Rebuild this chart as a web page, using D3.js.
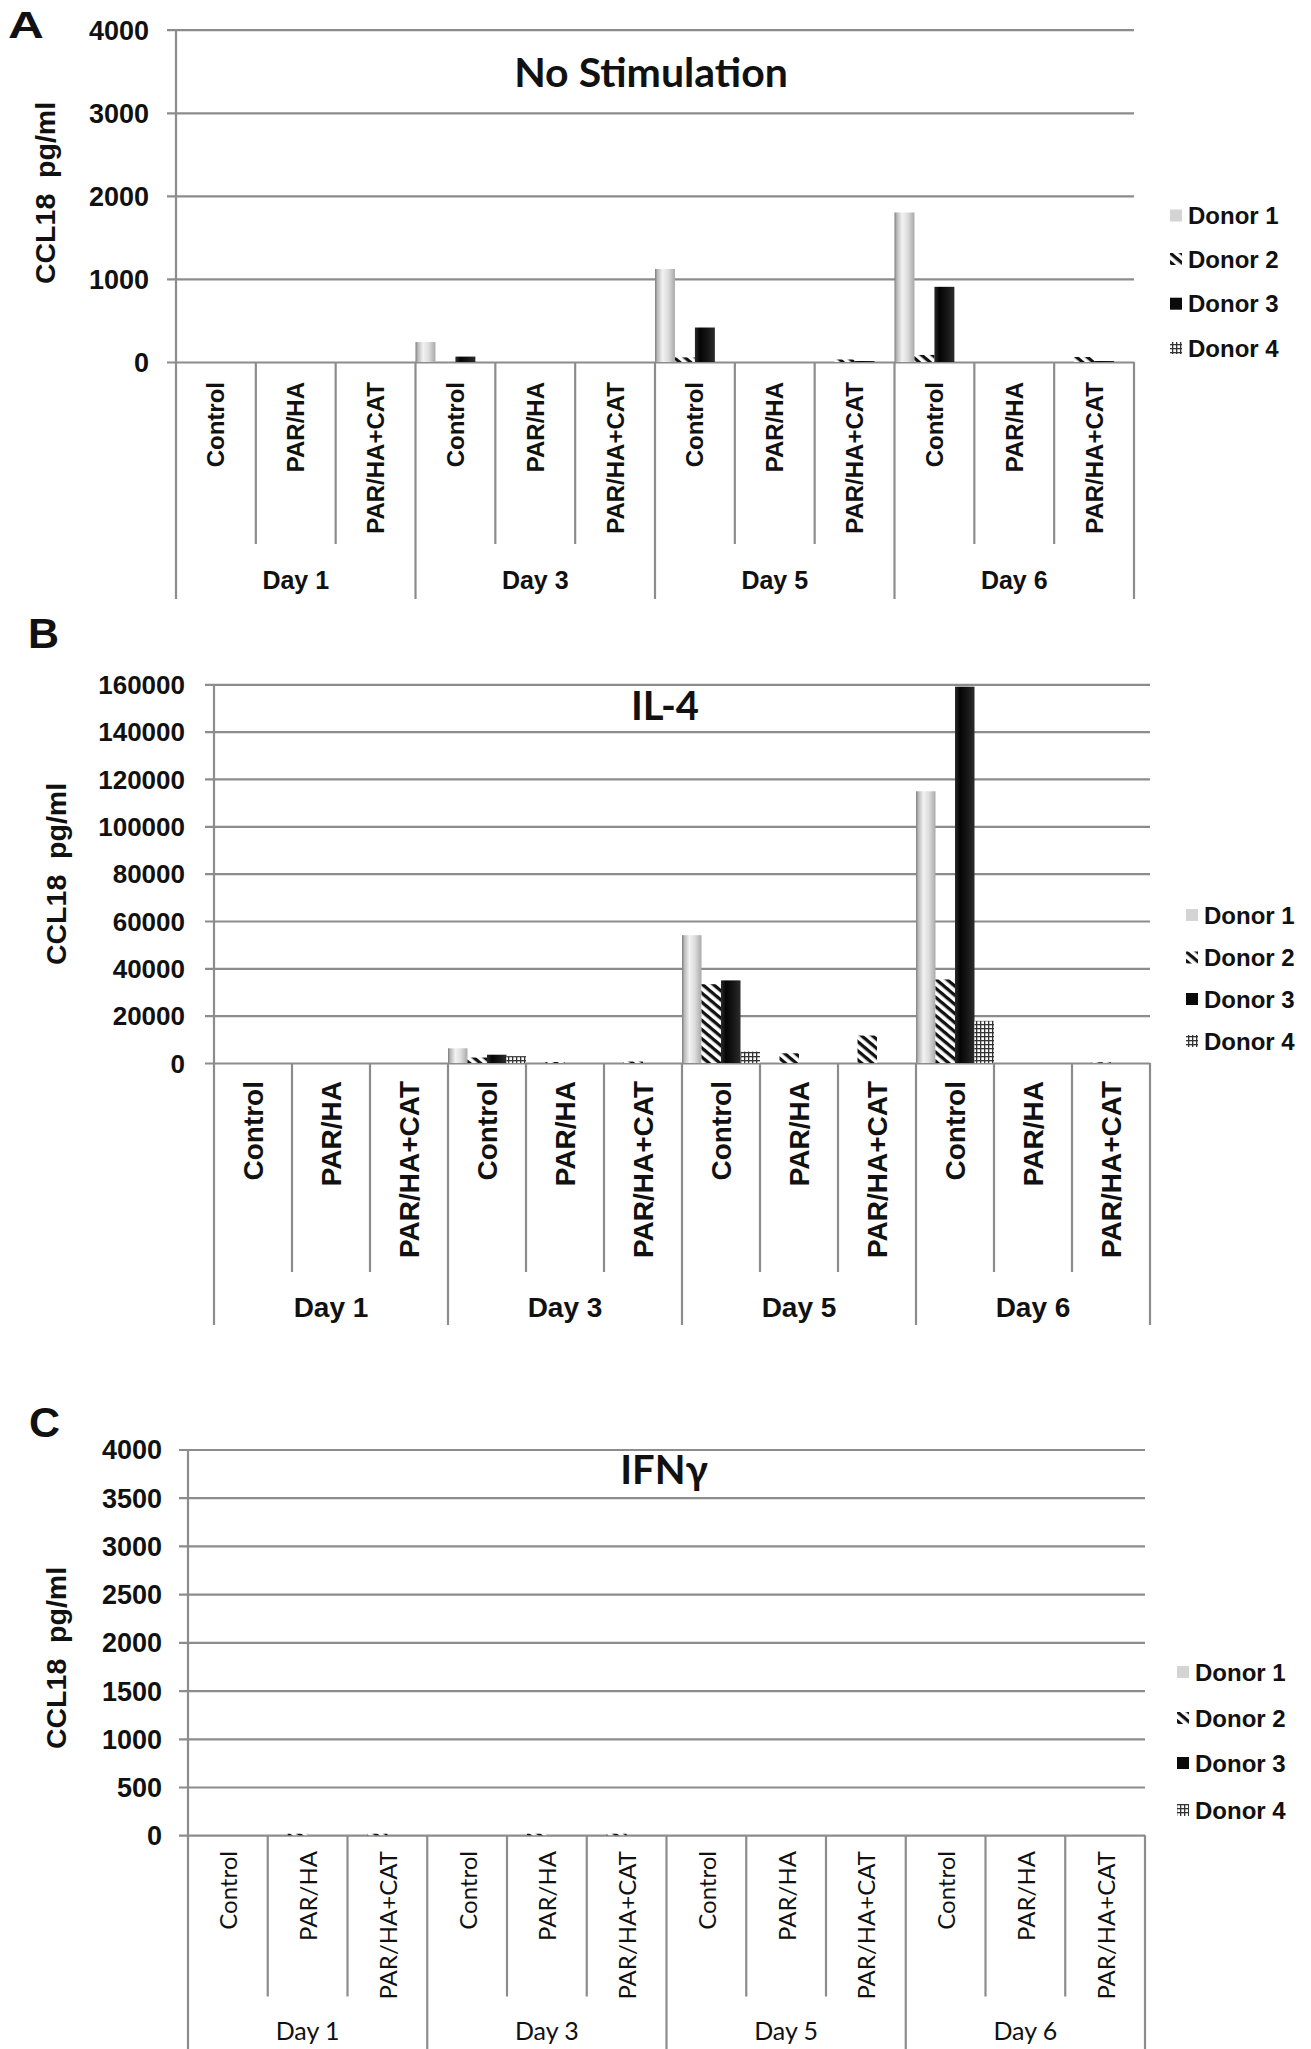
<!DOCTYPE html>
<html>
<head>
<meta charset="utf-8">
<script src="https://cdn.jsdelivr.net/npm/d3@7"></script>
<style>
  html, body { margin: 0; padding: 0; background: #fff; }
  svg { display: block; }
  text { fill: #111; }
</style>
</head>
<body>
<svg id="chart" width="1311" height="2049"></svg>
<script>
// ---------------- DATA ----------------
const days = ["Day 1", "Day 3", "Day 5", "Day 6"];
const treatments = ["Control", "PAR/HA", "PAR/HA+CAT"];
const donors = ["Donor 1", "Donor 2", "Donor 3", "Donor 4"];
const panelLetters = ["A", "B", "C"];
const panelTitles = ["No Stimulation", "IL-4", "IFNγ"];
const yAxisTitle = "CCL18  pg/ml";

const ticksA = [0, 1000, 2000, 3000, 4000];
const ticksB = [0, 20000, 40000, 60000, 80000, 100000, 120000, 140000, 160000];
const ticksC = [0, 500, 1000, 1500, 2000, 2500, 3000, 3500, 4000];

// values ordered Day1(Control, PAR/HA, PAR/HA+CAT), Day3(...), Day5(...), Day6(...)
const noStimDonor1 = [0, 0, 0, 240, 0, 0, 1120, 0, 0, 1800, 0, 0];
const noStimDonor2 = [0, 0, 0, 0, 0, 0, 55, 0, 30, 85, 0, 60];
const noStimDonor3 = [0, 0, 0, 65, 0, 0, 415, 0, 12, 905, 0, 12];
const noStimDonor4 = [0, 0, 0, 0, 0, 0, 0, 0, 0, 0, 0, 0];

const il4Donor1 = [0, 0, 0, 6200, 0, 0, 54000, 0, 0, 114800, 0, 0];
const il4Donor2 = [0, 0, 0, 2300, 400, 600, 33300, 4100, 11600, 35300, 0, 300];
const il4Donor3 = [0, 0, 0, 3500, 0, 0, 34900, 0, 0, 159000, 0, 0];
const il4Donor4 = [0, 0, 0, 2900, 0, 0, 4800, 0, 0, 17800, 0, 0];

const ifnDonor1 = [0, 0, 0, 0, 0, 0, 0, 0, 0, 0, 0, 0];
const ifnDonor2 = [0, 15, 15, 0, 15, 15, 0, 0, 0, 0, 0, 0];
const ifnDonor3 = [0, 0, 0, 0, 0, 0, 0, 0, 0, 0, 0, 0];
const ifnDonor4 = [0, 0, 0, 0, 0, 0, 0, 0, 0, 0, 0, 0];

const panelValues = [
  [noStimDonor1, noStimDonor2, noStimDonor3, noStimDonor4],
  [il4Donor1, il4Donor2, il4Donor3, il4Donor4],
  [ifnDonor1, ifnDonor2, ifnDonor3, ifnDonor4]
];
const panelTicks = [ticksA, ticksB, ticksC];

// ---------------- LAYOUT ----------------
const ARIAL = "'Liberation Sans', Arial, sans-serif";
const CALIBRI = "Lato, 'Open Sans', sans-serif";
const GRID = "#8c8c8c";

const layouts = [
  { left: 176, right: 1134, top: 29.7, zero: 362, tickStart: 167, tickLabelX: 149, tickFont: 27,
    catFont: `bold 24px ${ARIAL}`, catLabelY: 382, innerBottom: 544, dayBottom: 599,
    dayFont: `bold 25px ${ARIAL}`, dayY: 589,
    titleX: 651, titleY: 87, titleSize: 41,
    yTitleX: 45, yTitleY: 193, legSwX: 1170, legTextX: 1188, legYs: [215.5, 259, 303.7, 348],
    letterX: 8, letterY: 37.6, letterSize: 36, letterStretch: 1.38 },
  { left: 214, right: 1150, top: 684.3, zero: 1063, tickStart: 205, tickLabelX: 185, tickFont: 26,
    catFont: `bold 28px ${ARIAL}`, catLabelY: 1081, innerBottom: 1272, dayBottom: 1325,
    dayFont: `bold 28px ${ARIAL}`, dayY: 1317,
    titleX: 665, titleY: 720, titleSize: 40,
    yTitleX: 56, yTitleY: 874, legSwX: 1186, legTextX: 1204, legYs: [915, 957.5, 999, 1041],
    letterX: 28, letterY: 647.5, letterSize: 43, letterStretch: 1 },
  { left: 188, right: 1145, top: 1449.5, zero: 1835.2, tickStart: 179, tickLabelX: 162, tickFont: 27,
    catFont: `24px ${CALIBRI}`, catLabelY: 1851, innerBottom: 1996.5, dayBottom: 2049,
    dayFont: `25px ${CALIBRI}`, dayY: 2040,
    titleX: 664, titleY: 1484, titleSize: 40,
    yTitleX: 56, yTitleY: 1658, legSwX: 1177, legTextX: 1195, legYs: [1672, 1718, 1763, 1810],
    letterX: 29, letterY: 1436.5, letterSize: 43, letterStretch: 1 }
];

const svg = d3.select("#chart");
svg.append("rect").attr("width", 1311).attr("height", 2049).attr("fill", "#fff");

// ---------------- FILLS ----------------
const defs = svg.append("defs");
const g1 = defs.append("linearGradient").attr("id", "d1grad").attr("x1", 0).attr("x2", 1).attr("y1", 0).attr("y2", 0);
[["0%", "#7c7c7c"], ["12%", "#b9b9b9"], ["38%", "#f2f2f2"], ["65%", "#dedede"], ["100%", "#a9a9a9"]]
  .forEach(([o, c]) => g1.append("stop").attr("offset", o).attr("stop-color", c));
const g3 = defs.append("linearGradient").attr("id", "d3grad").attr("x1", 0).attr("x2", 1).attr("y1", 0).attr("y2", 0);
[["0%", "#2a2a2a"], ["25%", "#050505"], ["60%", "#141414"], ["100%", "#2c2c2c"]]
  .forEach(([o, c]) => g3.append("stop").attr("offset", o).attr("stop-color", c));

const p2 = defs.append("pattern").attr("id", "d2pat").attr("patternUnits", "userSpaceOnUse")
  .attr("width", 8).attr("height", 7).attr("patternTransform", "rotate(40)");
p2.append("rect").attr("width", 8).attr("height", 7).attr("fill", "#fff");
p2.append("rect").attr("width", 8).attr("height", 3.3).attr("fill", "#111");

const p4 = defs.append("pattern").attr("id", "d4pat").attr("patternUnits", "userSpaceOnUse")
  .attr("width", 4).attr("height", 4);
p4.append("rect").attr("width", 4).attr("height", 4).attr("fill", "#fff");
p4.append("rect").attr("width", 4).attr("height", 1.3).attr("fill", "#333");
p4.append("rect").attr("width", 1.3).attr("height", 4).attr("fill", "#333");

const barFills = ["url(#d1grad)", "url(#d2pat)", "url(#d3grad)", "url(#d4pat)"];
const legendFills = ["#d4d4d4", "url(#d2pat)", "#0a0a0a", "url(#d4pat)"];

// ---------------- DRAW ----------------
const catKeys = d3.range(days.length * treatments.length);

panelValues.forEach((vals, pi) => {
  const L = layouts[pi];
  const ticks = panelTicks[pi];
  const g = svg.append("g");

  const x = d3.scaleBand().domain(catKeys).range([L.left, L.right]).padding(0);
  const xd = d3.scaleBand().domain(d3.range(donors.length)).range([0, x.bandwidth()]).padding(0);
  const y = d3.scaleLinear().domain([0, d3.max(ticks)]).range([L.zero, L.top]);

  // gridlines + tick labels via d3 axis
  const ax = g.append("g")
    .attr("transform", `translate(${L.tickStart},0)`)
    .call(d3.axisLeft(y).tickValues(ticks).tickFormat(d3.format("d"))
      .tickSize(-(L.right - L.tickStart)).tickPadding(L.tickStart - L.tickLabelX));
  ax.select(".domain").remove();
  ax.selectAll(".tick line").attr("stroke", GRID).attr("stroke-width", 2.2);
  ax.selectAll(".tick text")
    .style("font", `bold ${L.tickFont}px ${ARIAL}`).attr("fill", "#111").attr("dy", "0.35em");

  // left axis vertical line
  g.append("line").attr("x1", L.left).attr("x2", L.left).attr("y1", L.top).attr("y2", L.dayBottom)
    .attr("stroke", GRID).attr("stroke-width", 2.2);

  // bars
  vals.forEach((series, di) => {
    g.selectAll(null).data(series.map((v, i) => ({ v, i })).filter(d => d.v > 0))
      .enter().append("rect")
      .attr("x", d => x(d.i) + xd(di))
      .attr("width", xd.bandwidth())
      .attr("y", d => y(d.v))
      .attr("height", d => L.zero - y(d.v))
      .attr("fill", barFills[di]);
  });

  // category separators
  catKeys.forEach(i => {
    if (i === 0) return;
    const isDay = i % treatments.length === 0;
    g.append("line").attr("x1", x(i)).attr("x2", x(i))
      .attr("y1", L.zero).attr("y2", isDay ? L.dayBottom : L.innerBottom)
      .attr("stroke", GRID).attr("stroke-width", 2.2);
  });
  g.append("line").attr("x1", L.right).attr("x2", L.right)
    .attr("y1", L.zero).attr("y2", L.dayBottom).attr("stroke", GRID).attr("stroke-width", 2.2);

  // category labels
  catKeys.forEach(i => {
    const cx = x(i) + x.bandwidth() / 2;
    g.append("text")
      .attr("transform", `translate(${cx},${L.catLabelY}) rotate(-90)`)
      .attr("text-anchor", "end").attr("dominant-baseline", "central")
      .style("font", L.catFont)
      .text(treatments[i % treatments.length]);
  });

  // day labels
  days.forEach((d, k) => {
    const x0 = x(k * treatments.length);
    const x1 = x((k + 1) * treatments.length - 1) + x.bandwidth();
    g.append("text").attr("x", (x0 + x1) / 2).attr("y", L.dayY)
      .attr("text-anchor", "middle").style("font", L.dayFont).text(d);
  });

  // title
  g.append("text").attr("x", L.titleX).attr("y", L.titleY).attr("text-anchor", "middle")
    .style("font", `bold ${L.titleSize}px ${CALIBRI}`).text(panelTitles[pi]);

  // y axis title
  g.append("text")
    .attr("transform", `translate(${L.yTitleX},${L.yTitleY}) rotate(-90)`)
    .attr("text-anchor", "middle").attr("dominant-baseline", "central")
    .style("font", `bold 28.5px ${ARIAL}`).style("white-space", "pre")
    .text(yAxisTitle);

  // panel letter
  g.append("text")
    .attr("transform", `translate(${L.letterX},${L.letterY}) scale(${L.letterStretch},1)`)
    .style("font", `bold ${L.letterSize}px ${ARIAL}`).text(panelLetters[pi]);

  // legend
  donors.forEach((name, di) => {
    const cy = L.legYs[di];
    g.append("rect").attr("x", L.legSwX).attr("y", cy - 6).attr("width", 12).attr("height", 12)
      .attr("fill", legendFills[di]);
    g.append("text").attr("x", L.legTextX).attr("y", cy).attr("dominant-baseline", "central")
      .style("font", `bold 24px ${ARIAL}`).text(name);
  });
});
</script>
</body>
</html>
